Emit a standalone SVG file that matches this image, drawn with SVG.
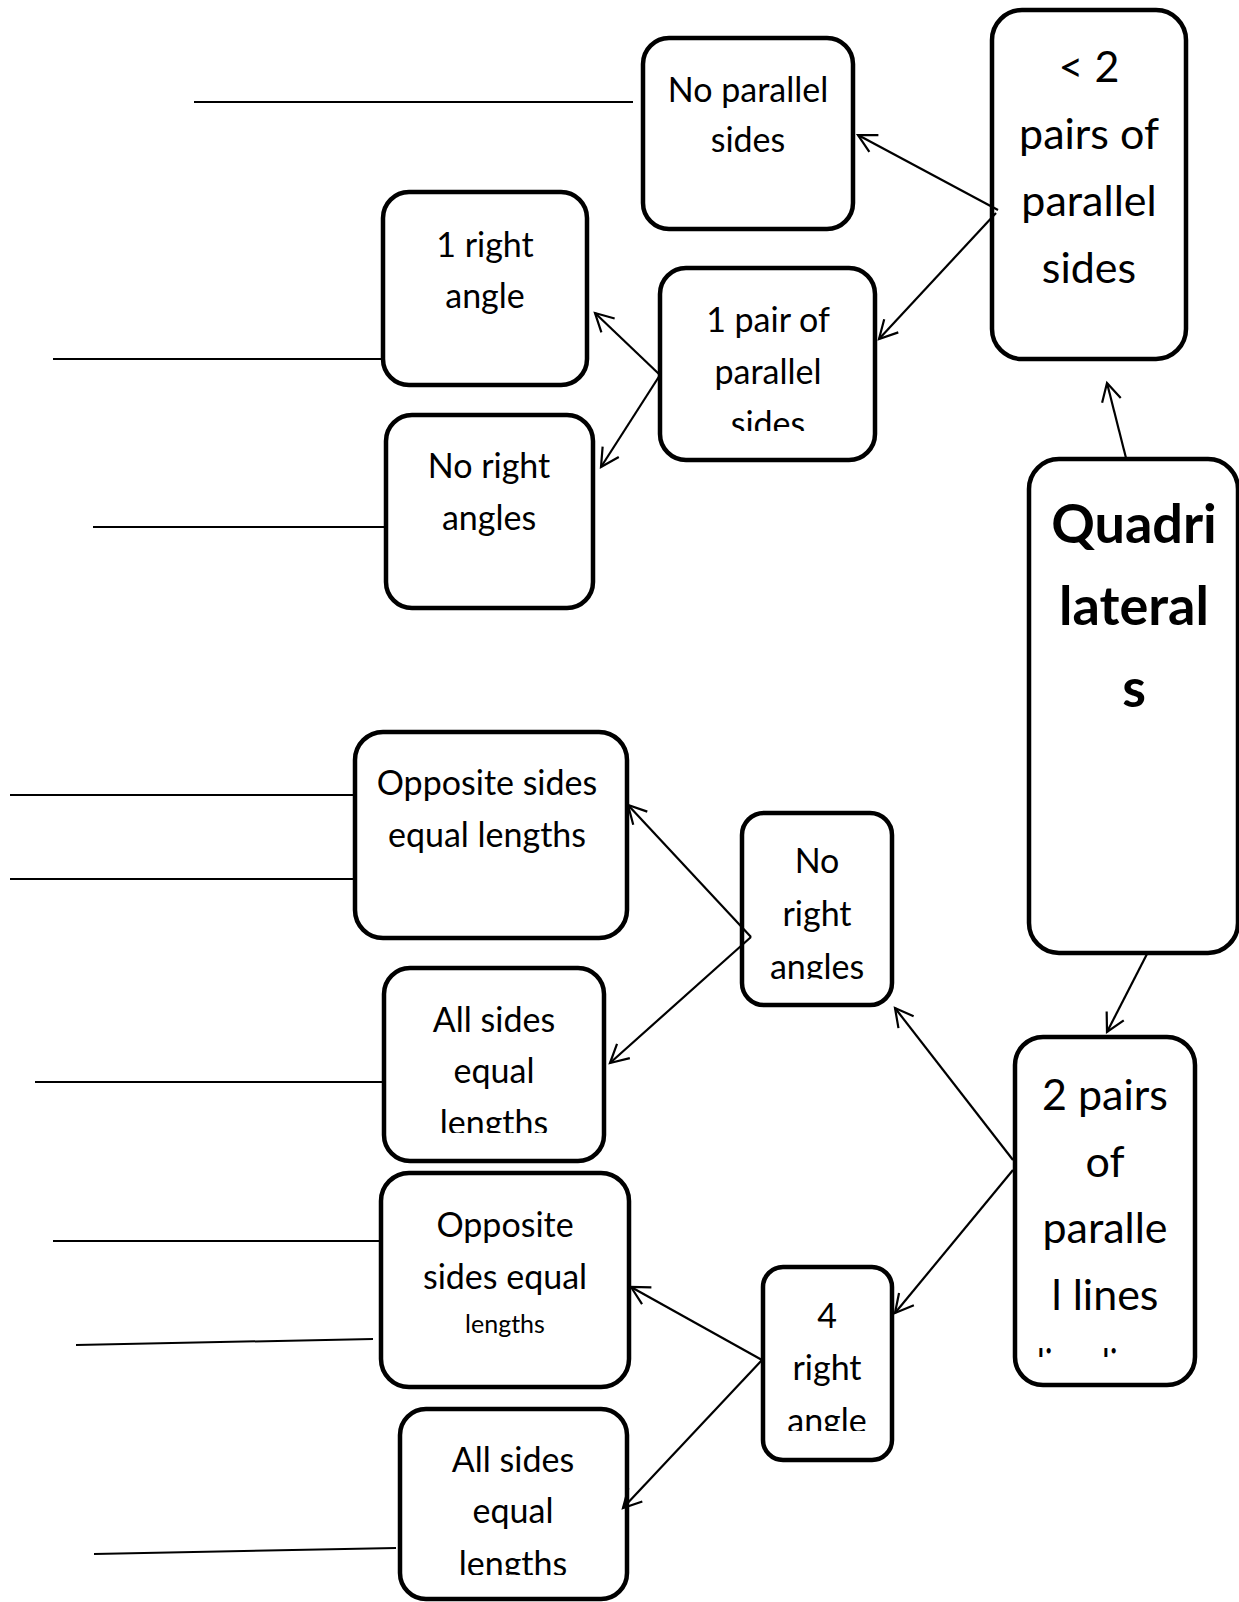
<svg xmlns="http://www.w3.org/2000/svg" width="1239" height="1602" viewBox="0 0 1239 1602">
<style>
.box{fill:#fff;stroke:#000;stroke-width:4.5}
.t{font-family:Lato,"Open Sans","Liberation Sans",sans-serif;font-size:34px;fill:#000;text-anchor:middle}
.big{font-size:43px}
.bold{font-size:54px;font-weight:bold}
.small{font-size:25px}
.con{stroke:#000;stroke-width:2.2;fill:none;marker-end:url(#arr)}
.ans{stroke:#000;stroke-width:2;fill:none}
</style>
<defs>
<marker id="arr" markerUnits="userSpaceOnUse" viewBox="-22 -12 24 24" refX="0" refY="0" markerWidth="24" markerHeight="24" orient="auto" overflow="visible">
<path d="M-18,-9.6 L0,0 L-18,9.6" fill="none" stroke="#000" stroke-width="2.2"/>
</marker>
<clipPath id="c4"><rect x="660" y="268" width="215" height="163"/></clipPath>
<clipPath id="c8"><rect x="742" y="813" width="150" height="166"/></clipPath>
<clipPath id="c9"><rect x="384" y="968" width="220" height="165"/></clipPath>
<clipPath id="c10"><rect x="1015" y="1037" width="180" height="320"/></clipPath>
<clipPath id="c12"><rect x="763" y="1267" width="129" height="164"/></clipPath>
<clipPath id="c13"><rect x="400" y="1409" width="227" height="166"/></clipPath>
</defs>

<g id="answer-lines">
<line class="ans" x1="194" y1="102" x2="633" y2="102"/>
<line class="ans" x1="53" y1="359" x2="385" y2="359"/>
<line class="ans" x1="93" y1="527" x2="386" y2="527"/>
<line class="ans" x1="10" y1="795" x2="355" y2="795"/>
<line class="ans" x1="10" y1="879" x2="355" y2="879"/>
<line class="ans" x1="35" y1="1082" x2="385" y2="1082"/>
<line class="ans" x1="53" y1="1241" x2="385" y2="1241"/>
<line class="ans" x1="76" y1="1345" x2="373" y2="1339"/>
<line class="ans" x1="94" y1="1554" x2="396" y2="1548"/>
</g>

<g id="node-no-parallel">
<rect class="box" x="643" y="38" width="210" height="191" rx="26"/>
<text class="t" x="748" y="102">No parallel</text>
<text class="t" x="748" y="152">sides</text>
</g>

<g id="node-less-than-2">
<rect class="box" x="992" y="10" width="194" height="349" rx="30"/>
<text class="t big" x="1089" y="82">&lt; 2</text>
<text class="t big" x="1089" y="149">pairs of</text>
<text class="t big" x="1089" y="216">parallel</text>
<text class="t big" x="1089" y="283">sides</text>
</g>

<g id="node-1-right-angle">
<rect class="box" x="383" y="192" width="204" height="193" rx="26"/>
<text class="t" x="485" y="257">1 right</text>
<text class="t" x="485" y="308">angle</text>
</g>

<g id="node-1-pair">
<rect class="box" x="660" y="268" width="215" height="192" rx="26"/>
<g clip-path="url(#c4)">
<text class="t" x="768" y="332">1 pair of</text>
<text class="t" x="768" y="384">parallel</text>
<text class="t" x="768" y="436">sides</text>
</g>
</g>

<g id="node-no-right-angles-top">
<rect class="box" x="386" y="415" width="207" height="193" rx="26"/>
<text class="t" x="489" y="478">No right</text>
<text class="t" x="489" y="530">angles</text>
</g>

<g id="node-quadrilaterals">
<rect class="box" x="1029" y="459" width="209" height="494" rx="30"/>
<text class="t bold" x="1134" y="543">Quadri</text>
<text class="t bold" x="1134" y="625">lateral</text>
<text class="t bold" x="1134" y="707">s</text>
</g>

<g id="node-opposite-mid">
<rect class="box" x="355" y="732" width="272" height="206" rx="28"/>
<text class="t" x="487" y="795">Opposite sides</text>
<text class="t" x="487" y="847">equal lengths</text>
</g>

<g id="node-no-right-angles-mid">
<rect class="box" x="742" y="813" width="150" height="192" rx="22"/>
<g clip-path="url(#c8)">
<text class="t" x="817" y="873">No</text>
<text class="t" x="817" y="926">right</text>
<text class="t" x="817" y="979">angles</text>
</g>
</g>

<g id="node-all-sides-mid">
<rect class="box" x="384" y="968" width="220" height="193" rx="26"/>
<g clip-path="url(#c9)">
<text class="t" x="494" y="1032">All sides</text>
<text class="t" x="494" y="1083">equal</text>
<text class="t" x="494" y="1135">lengths</text>
</g>
</g>

<g id="node-2-pairs">
<rect class="box" x="1015" y="1037" width="180" height="348" rx="28"/>
<g clip-path="url(#c10)">
<text class="t big" x="1105" y="1110">2 pairs</text>
<text class="t big" x="1105" y="1177">of</text>
<text class="t big" x="1105" y="1243">paralle</text>
<text class="t big" x="1105" y="1310">l lines</text>
<text class="t big" x="1037" y="1379" style="text-anchor:start" textLength="130" lengthAdjust="spacingAndGlyphs">lineslines</text>
</g>
</g>

<g id="node-opposite-lower">
<rect class="box" x="381" y="1173" width="248" height="214" rx="28"/>
<text class="t" x="505" y="1237">Opposite</text>
<text class="t" x="505" y="1289">sides equal</text>
<text class="t small" x="505" y="1333">lengths</text>
</g>

<g id="node-4-right">
<rect class="box" x="763" y="1267" width="129" height="193" rx="20"/>
<g clip-path="url(#c12)">
<text class="t" x="827" y="1328">4</text>
<text class="t" x="827" y="1380">right</text>
<text class="t" x="827" y="1433">angle</text>
</g>
</g>

<g id="node-all-sides-bottom">
<rect class="box" x="400" y="1409" width="227" height="190" rx="26"/>
<g clip-path="url(#c13)">
<text class="t" x="513" y="1472">All sides</text>
<text class="t" x="513" y="1523">equal</text>
<text class="t" x="513" y="1576">lengths</text>
</g>
</g>

<g id="connectors">
<line class="con" x1="998" y1="210" x2="858" y2="135"/>
<line class="con" x1="996" y1="213" x2="879" y2="339"/>
<line class="con" x1="1126" y1="458" x2="1107" y2="383"/>
<line class="con" x1="660" y1="375" x2="595" y2="313"/>
<line class="con" x1="660" y1="375" x2="601" y2="467"/>
<line class="con" x1="1147" y1="954" x2="1107" y2="1032"/>
<line class="con" x1="1013" y1="1160" x2="895" y2="1008"/>
<line class="con" x1="1013" y1="1170" x2="895" y2="1313"/>
<line class="con" x1="751" y1="937" x2="628" y2="805"/>
<line class="con" x1="751" y1="937" x2="610" y2="1063"/>
<line class="con" x1="762" y1="1360" x2="631" y2="1287"/>
<line class="con" x1="762" y1="1360" x2="623" y2="1508"/>
</g>
</svg>
